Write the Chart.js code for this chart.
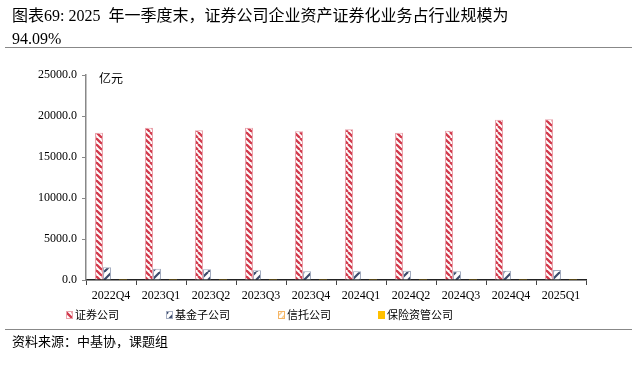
<!DOCTYPE html>
<html><head><meta charset="utf-8">
<script src="https://cdn.jsdelivr.net/npm/chart.js@4/dist/chart.umd.min.js"></script>
<style>
html,body{margin:0;padding:0;background:#fff;}
#wrap{position:relative;width:637px;height:365px;overflow:hidden;}
#c{position:absolute;left:0;top:0;}
.t{position:absolute;font-family:"Liberation Serif","Noto Sans CJK SC",serif;color:#000;white-space:nowrap;}
#title{left:12px;top:4px;font-size:16px;line-height:23px;}
#src{left:12px;top:331px;font-size:13px;}
.hr{position:absolute;left:5px;width:627px;height:1px;background:#888;}
</style></head>
<body><div id="wrap">
<canvas id="c" width="637" height="365"></canvas>
<div class="t" id="title">图表69: 2025&nbsp; 年一季度末，证券公司企业资产证券化业务占行业规模为<br>94.09%</div>
<div class="hr" style="top:47px"></div>
<div class="hr" style="top:329px"></div>
<div class="t" id="src">资料来源：中基协，课题组</div>
</div>
<script>
const categories = ['2022Q4','2023Q1','2023Q2','2023Q3','2023Q4','2024Q1','2024Q2','2024Q3','2024Q4','2025Q1'];
const seriesNames = ['证券公司','基金子公司','信托公司','保险资管公司'];
const securities = [17950,18580,18250,18580,18130,18370,17970,18210,19550,19600];
const fundSubs = [1545,1380,1300,1180,1060,1060,1140,1060,1140,1220];
const trusts = [60,60,55,55,50,50,50,50,50,50];
const insurance = [5,5,5,5,5,5,5,5,5,5];
const yTicks = [0,5000,10000,15000,20000,25000];
const unitLabel = '亿元';

function stripe(fg, bg, dir, s, lw){
  const c=document.createElement('canvas'); c.width=c.height=s;
  const x=c.getContext('2d'); x.fillStyle=bg; x.fillRect(0,0,s,s);
  x.strokeStyle=fg; x.lineWidth=lw; x.beginPath();
  for(const k of [-s,0,s]){
    if(dir==='\\'){x.moveTo(k,0);x.lineTo(k+s,s);} else {x.moveTo(k,s);x.lineTo(k+s,0);}
  }
  x.stroke();
  return document.getElementById('c').getContext('2d').createPattern(c,'repeat');
}
const pSec = stripe('#D23A4C','#ffffff','\\',6,2.3);
const pFund = stripe('#3B4A6B','#ffffff','/',8,2.2);
const pTrust = stripe('#F8CC90','#ffffff','/',6,1.5);
const fills = [pSec,pFund,pTrust,'#FFC000'];
const borders = ['#E9A3AC','#A4ADC0','#F5B565','#FFC000'];
const values = [securities,fundSubs,trusts,insurance];

const customLegend = {
  id:'customLegend',
  afterDraw(chart){
    const ctx=chart.ctx; const xs=[66,166,278,378]; const y=315;
    ctx.save();
    ctx.font='11px "Noto Sans CJK SC"'; ctx.textBaseline='middle'; ctx.fillStyle='#000';
    chart.data.datasets.forEach((d,i)=>{
      ctx.fillStyle=d.backgroundColor; ctx.fillRect(xs[i],y-4,7,8);
      ctx.strokeStyle=d.borderColor; ctx.lineWidth=1; ctx.strokeRect(xs[i]+0.5,y-3.5,6,7);
      ctx.fillStyle='#000'; ctx.fillText(d.label,xs[i]+9,y);
    });
    ctx.font='12px "Noto Sans CJK SC"'; ctx.textBaseline='middle';
    ctx.fillText(unitLabel, chart.chartArea.left+13, chart.chartArea.top+3);
    ctx.restore();
  }
};

new Chart(document.getElementById('c'),{
  type:'bar',
  data:{labels:categories,datasets:seriesNames.map((n,i)=>({
    label:n,data:values[i],backgroundColor:fills[i],borderColor:borders[i],borderWidth:1,
    categoryPercentage:0.64,barPercentage:1.0
  }))},
  options:{
    responsive:false,animation:false,
    layout:{padding:{left:0,right:51,top:75,bottom:0}},
    plugins:{legend:{display:false},tooltip:{enabled:false}},
    scales:{
      x:{
        grid:{display:true,drawOnChartArea:false,drawTicks:true,tickLength:5,color:'#444',offset:true},
        border:{display:true,color:'#222',width:1.5},
        ticks:{font:{family:'Liberation Serif',size:12},color:'#000',padding:4,maxRotation:0,autoSkip:false},
        afterFit(s){s.height=85;}
      },
      y:{
        min:0,max:25000,
        afterBuildTicks(s){s.ticks=yTicks.map(v=>({value:v}));},
        grid:{display:true,drawOnChartArea:false,drawTicks:true,tickLength:4,color:'#888'},
        border:{display:true,color:'#888',width:1.5},
        ticks:{font:{family:'Liberation Serif',size:12},color:'#000',padding:5,callback:v=>Number(v).toFixed(1)},
        afterFit(s){s.width=86;}
      }
    }
  },
  plugins:[customLegend]
});
</script>
</body></html>
